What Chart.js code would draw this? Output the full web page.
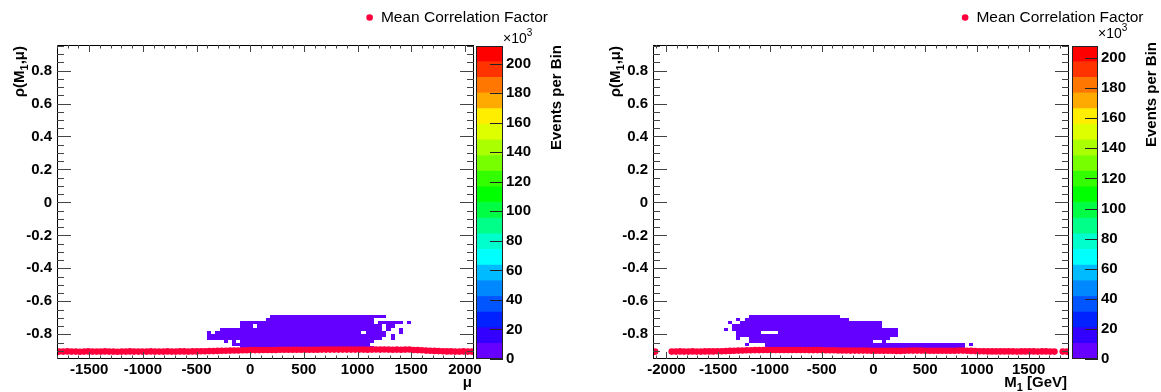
<!DOCTYPE html>
<html>
<head>
<meta charset="utf-8">
<title>Correlation factor rho(M1, mu)</title>
<script src="https://cdn.jsdelivr.net/npm/chart.js@4.4.1/dist/chart.umd.min.js"></script>
<style>
  html, body { margin: 0; padding: 0; background: #fff; width: 1161px; height: 392px; overflow: hidden; }
  canvas { position: absolute; top: 0; }
</style>
</head>
<body>
<canvas id="muMain" width="580" height="392" style="left:0px"></canvas>
<canvas id="muBar" width="104" height="392" style="left:476px"></canvas>
<canvas id="m1Main" width="565" height="392" style="left:596px"></canvas>
<canvas id="m1Bar" width="89" height="392" style="left:1072px"></canvas>
<script>
// ---------------- data ----------------

// histogram binning (100 x 100 bins)
const muBins  = { lo: -1800, hi: 2085, n: 100 };
const m1Bins  = { lo: -2130, hi: 1890, n: 100 };
const rhoBins = { lo: -0.95, hi: 0.955, n: 100 };

// profile: mean correlation factor per x bin (null = empty bin)
const muMeanRho = [
  -0.905, -0.905, -0.904, -0.905, -0.905, -0.906, -0.905, -0.904, -0.905, -0.905,
  -0.905, -0.904, -0.905, -0.905, -0.906, -0.905, -0.905, -0.904, -0.905, -0.905,
  -0.905, -0.905, -0.904, -0.905, -0.905, -0.905, -0.904, -0.905, -0.905, -0.904,
  -0.904, -0.905, -0.904, -0.904, -0.903, -0.903, -0.902, -0.902, -0.901, -0.900,
  -0.900, -0.899, -0.898, -0.898, -0.897, -0.897, -0.896, -0.896, -0.896, -0.895,
  -0.895, -0.895, -0.895, -0.894, -0.894, -0.894, -0.894, -0.894, -0.894, -0.894,
  -0.894, -0.894, -0.894, -0.893, -0.893, -0.893, -0.893, -0.893, -0.893, -0.893,
  -0.893, -0.893, -0.893, -0.893, -0.894, -0.893, -0.892, -0.893, -0.892, -0.893,
  -0.894, -0.893, -0.894, -0.893, -0.892, -0.895, -0.896, -0.897, -0.899, -0.900,
  -0.901, -0.902, -0.903, -0.904, -0.904, -0.905, -0.905, -0.904, -0.905, -0.905
];
const m1MeanRho = [
  -0.905, null, null, null, -0.905, -0.905, -0.904, -0.905, -0.905, -0.904,
  -0.905, -0.905, -0.904, -0.904, -0.904, -0.903, -0.903, -0.902, -0.901, -0.900,
  -0.899, -0.898, -0.897, -0.897, -0.896, -0.896, -0.895, -0.895, -0.895, -0.895,
  -0.895, -0.895, -0.895, -0.895, -0.895, -0.895, -0.895, -0.896, -0.896, -0.896,
  -0.896, -0.897, -0.897, -0.897, -0.898, -0.898, -0.898, -0.899, -0.899, -0.899,
  -0.899, -0.899, -0.900, -0.900, -0.900, -0.900, -0.900, -0.900, -0.901, -0.901,
  -0.900, -0.899, -0.899, -0.899, -0.899, -0.900, -0.900, -0.900, -0.900, -0.900,
  -0.900, -0.900, -0.900, -0.899, -0.899, -0.900, -0.901, -0.902, -0.903, -0.903,
  -0.904, -0.904, -0.904, -0.904, -0.904, -0.904, -0.904, -0.905, -0.904, -0.904,
  -0.904, -0.904, -0.905, -0.904, -0.904, -0.905, -0.905, null, -0.905, -0.905
];

// filled 2D bins: [rho bin index, [[first x bin, last x bin], ...]]
const muCells = [
  [13, [[51, 78]]],
  [12, [[50, 75]]],
  [11, [[44, 75], [77, 82], [84, 84]]],
  [10, [[44, 46], [48, 77], [79, 80]]],
  [9,  [[39, 77], [79, 79], [82, 82]]],
  [8,  [[36, 36], [38, 72], [74, 78], [82, 82]]],
  [7,  [[36, 78], [80, 80]]],
  [6,  [[36, 77], [80, 80]]],
  [5,  [[40, 40], [42, 42], [44, 75]]],
  [4,  [[42, 74]]],
  [3,  [[44, 75]]]
];
const m1Cells = [
  [13, [[23, 44]]],
  [12, [[20, 20], [22, 46]]],
  [11, [[18, 18], [21, 54]]],
  [10, [[19, 54]]],
  [9,  [[17, 17], [19, 58]]],
  [8,  [[20, 25], [30, 58]]],
  [7,  [[20, 58]]],
  [6,  [[20, 20], [23, 56]]],
  [5,  [[23, 52], [55, 55]]],
  [4,  [[22, 22], [27, 74], [76, 76]]],
  [3,  [[27, 74]]]
];

// colour palette (bottom -> top) and z-axis maxima (x10^3 events)
const paletteColors = [
  '#6600ff', '#3300ff', '#0022ff', '#0055ff', '#0088ff', '#00bbff', '#00ffff',
  '#00ffcc', '#00ff88', '#00ff44', '#00ff00', '#33ff00', '#77ff00', '#aaff00',
  '#ddff00', '#ffee00', '#ffaa00', '#ff7700', '#ff3300', '#ff0000'
];
const muZMax = 212;
const m1ZMax = 208;

const legendLabel = 'Mean Correlation Factor';
const colorbarTitle = 'Events per Bin';

// ---------------- drawing ----------------

const FONT = '"Liberation Sans", Arial, Helvetica, sans-serif';
const RED = '#ff003c';
const CELL = '#6400ff';

Chart.defaults.font.family = FONT;
Chart.defaults.color = '#000';

function binCenters(b) {
  const w = (b.hi - b.lo) / b.n;
  return Array.from({ length: b.n }, (_, i) => b.lo + (i + 0.5) * w);
}

// text made of [string, isSubscript] parts, right-aligned at x
function drawRich(ctx, parts, x, y, size, weight) {
  const fonts = parts.map(([, sub]) => `${weight} ${sub ? Math.round(size * 0.7) : size}px ${FONT}`);
  let w = 0;
  parts.forEach(([t], i) => { ctx.font = fonts[i]; w += ctx.measureText(t).width; });
  let cx = x - w;
  ctx.textAlign = 'left';
  ctx.textBaseline = 'alphabetic';
  parts.forEach(([t, sub], i) => {
    ctx.font = fonts[i];
    ctx.fillText(t, cx, y + (sub ? size * 0.28 : 0));
    cx += ctx.measureText(t).width;
  });
}

function histPlugin(xb, cells, xTitle, yTitle) {
  const yb = rhoBins;
  return {
    id: 'hist2d',
    beforeDatasetsDraw(chart) {
      const { ctx, chartArea: a, scales: { x, y } } = chart;
      const xw = (xb.hi - xb.lo) / xb.n, yw = (yb.hi - yb.lo) / yb.n;
      ctx.save();
      ctx.beginPath();
      ctx.rect(a.left, a.top, a.width, a.height);
      ctx.clip();
      ctx.fillStyle = CELL;
      for (const [k, runs] of cells) {
        const top = Math.round(y.getPixelForValue(yb.lo + (k + 1) * yw));
        const bot = Math.round(y.getPixelForValue(yb.lo + k * yw));
        for (const [i0, i1] of runs) {
          const l = Math.round(x.getPixelForValue(xb.lo + i0 * xw));
          const r = Math.round(x.getPixelForValue(xb.lo + (i1 + 1) * xw));
          ctx.fillRect(l, top, r - l, bot - top);
        }
      }
      ctx.restore();
    },
    afterDatasetsDraw(chart) {
      const { ctx, chartArea: a, scales: { x, y } } = chart;
      ctx.save();
      ctx.strokeStyle = '#000';
      ctx.lineWidth = 1;
      ctx.strokeRect(a.left + 0.5, a.top + 0.5, a.width - 1, a.height - 1);
      ctx.strokeStyle = '#444';
      ctx.beginPath();
      // x ticks every 100, major every 500, bottom and top
      for (let v = Math.ceil(x.min / 100) * 100; v <= x.max; v += 100) {
        const px = Math.round(x.getPixelForValue(v)) + 0.5;
        const len = v % 500 === 0 ? 7 : 3.5;
        ctx.moveTo(px, a.bottom); ctx.lineTo(px, a.bottom - len);
        ctx.moveTo(px, a.top); ctx.lineTo(px, a.top + len);
      }
      // y ticks every 0.05, major every 0.2, left and right
      for (let k = Math.ceil(y.min / 0.05); k * 0.05 <= y.max; k++) {
        const py = Math.round(y.getPixelForValue(k * 0.05)) + 0.5;
        const len = k % 4 === 0 ? 14 : 7;
        ctx.moveTo(a.left, py); ctx.lineTo(a.left + len, py);
        ctx.moveTo(a.right, py); ctx.lineTo(a.right - len, py);
      }
      ctx.stroke();
      ctx.restore();
    },
    afterDraw(chart) {
      const { ctx, chartArea: a } = chart;
      ctx.save();
      ctx.fillStyle = '#000';
      drawRich(ctx, xTitle, a.right - 2, 386.5, 15, 'bold');
      ctx.translate(a.left - 33, a.top + 1);
      ctx.rotate(-Math.PI / 2);
      drawRich(ctx, yTitle, 0, 0, 15, 'bold');
      ctx.restore();
    }
  };
}

function makeMain(id, xb, meanRho, cells, xTitle, opt) {
  const centers = binCenters(xb);
  const points = [];
  meanRho.forEach((v, i) => { if (v !== null) points.push({ x: centers[i], y: v }); });
  const tickFont = { size: 15, weight: 'bold' };
  const hidden = {
    grid: { display: false, drawTicks: false },
    border: { display: false },
    ticks: { display: false }
  };
  return new Chart(document.getElementById(id), {
    type: 'scatter',
    data: {
      datasets: [{
        label: legendLabel,
        data: points,
        pointStyle: 'circle',
        pointRadius: 3.3,
        pointHoverRadius: 3.3,
        backgroundColor: RED,
        borderColor: RED,
        pointBorderWidth: 0,
        borderWidth: 0,
        clip: 0
      }]
    },
    options: {
      responsive: false,
      devicePixelRatio: 1,
      animation: false,
      events: [],
      layout: { padding: { left: 0, right: opt.padRight, top: 0, bottom: 0 } },
      plugins: {
        legend: {
          position: 'top',
          align: 'end',
          labels: {
            usePointStyle: true,
            boxWidth: 7,
            boxHeight: 4.67,
            padding: 9.75,
            color: '#000',
            font: { size: 15.5 }
          }
        },
        tooltip: { enabled: false }
      },
      scales: {
        x: {
          type: 'linear',
          position: 'bottom',
          min: xb.lo,
          max: xb.hi,
          afterBuildTicks: s => {
            const t = [];
            for (let v = Math.ceil(s.min / 500) * 500; v <= s.max; v += 500) t.push({ value: v });
            s.ticks = t;
          },
          afterFit: s => { s.height = 392 - opt.frameBottom; },
          grid: { display: false, drawTicks: false },
          border: { display: false },
          ticks: {
            autoSkip: false, maxRotation: 0,
            padding: 1.5, font: tickFont, color: '#000',
            callback: v => String(Math.round(v))
          }
        },
        x2: {
          type: 'linear',
          position: 'top',
          min: xb.lo,
          max: xb.hi,
          afterFit: s => { s.height = opt.frameTop - s.chart.legend.height; },
          ...hidden
        },
        y: {
          type: 'linear',
          position: 'left',
          min: rhoBins.lo,
          max: rhoBins.hi,
          afterFit: s => { s.width = opt.frameLeft; },
          grid: { display: false, drawTicks: false },
          border: { display: false },
          ticks: {
            stepSize: 0.2, includeBounds: false, autoSkip: false,
            padding: 5, font: tickFont, color: '#000',
            callback: v => { const r = Math.round(v * 10) / 10; return r === 0 ? '0' : r.toFixed(1); }
          }
        },
        y2: {
          type: 'linear',
          position: 'right',
          min: rhoBins.lo,
          max: rhoBins.hi,
          afterFit: s => { s.width = opt.rightGap; },
          ...hidden
        }
      }
    },
    plugins: [histPlugin(xb, cells, xTitle, [['\u03c1(M', false], ['1', true], [',\u03bc)', false]])]
  });
}

function colorbarPlugin(expBaseline, titleTop) {
  return {
    id: 'colorbar',
    afterDraw(chart) {
      const { ctx, chartArea: a, scales: { y } } = chart;
      ctx.save();
      ctx.strokeStyle = '#222';
      ctx.lineWidth = 1;
      ctx.strokeRect(a.left + 0.5, a.top + 0.5, a.width - 1, a.height - 1);
      ctx.beginPath();
      for (const t of y.ticks) {
        const py = Math.round(y.getPixelForValue(t.value)) + 0.5;
        ctx.moveTo(a.right, py);
        ctx.lineTo(a.right - 13, py);
      }
      ctx.stroke();
      // exponent label
      ctx.fillStyle = '#000';
      ctx.textAlign = 'left';
      ctx.textBaseline = 'alphabetic';
      ctx.font = `14px ${FONT}`;
      ctx.fillText('\u00d710', a.right, expBaseline);
      const w = ctx.measureText('\u00d710').width;
      ctx.font = `10px ${FONT}`;
      ctx.fillText('3', a.right + w, expBaseline - 7);
      // axis title, rotated, aligned to the top
      ctx.translate(a.right + 58, titleTop);
      ctx.rotate(-Math.PI / 2);
      drawRich(ctx, [[colorbarTitle, false]], 0, 0, 15, 'bold');
      ctx.restore();
    }
  };
}

function makeColorbar(id, zMax, opt) {
  const band = zMax / paletteColors.length;
  return new Chart(document.getElementById(id), {
    type: 'bar',
    data: {
      labels: [''],
      datasets: paletteColors.map(c => ({
        data: [band],
        backgroundColor: c,
        borderWidth: 0,
        barPercentage: 1,
        categoryPercentage: 1
      }))
    },
    options: {
      responsive: false,
      devicePixelRatio: 1,
      animation: false,
      events: [],
      layout: { padding: { left: 0, right: 0, top: 46, bottom: 33 } },
      plugins: { legend: { display: false }, tooltip: { enabled: false } },
      scales: {
        x: { stacked: true, display: false },
        y: {
          stacked: true,
          position: 'right',
          min: 0,
          max: zMax,
          afterFit: s => { s.width = opt.axisWidth; },
          grid: { display: false, drawTicks: false },
          border: { display: false },
          ticks: {
            stepSize: 20, includeBounds: false, padding: 3,
            font: { size: 15, weight: 'bold' }, color: '#000',
            callback: v => String(Math.round(v))
          }
        }
      }
    },
    plugins: [colorbarPlugin(opt.expBaseline, opt.titleTop)]
  });
}

makeMain('muMain', muBins, muMeanRho, muCells, [['\u03bc', false]],
  { frameLeft: 57, frameTop: 45, frameBottom: 359, padRight: 22.25, rightGap: 83.75 });
makeColorbar('muBar', muZMax, { axisWidth: 77, expBaseline: 43, titleTop: 45 });

makeMain('m1Main', m1Bins, m1MeanRho, m1Cells, [['M', false], ['1', true], [' [GeV]', false]],
  { frameLeft: 57, frameTop: 45, frameBottom: 359, padRight: 7.75, rightGap: 84.25 });
makeColorbar('m1Bar', m1ZMax, { axisWidth: 63, expBaseline: 38, titleTop: 42 });
</script>
</body>
</html>
